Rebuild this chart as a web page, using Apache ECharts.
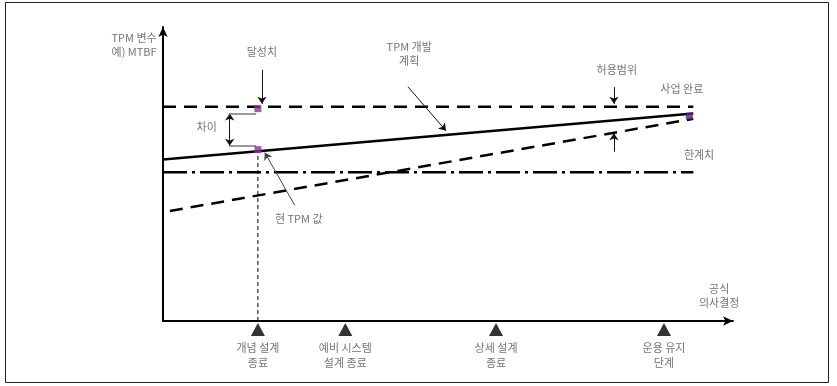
<!DOCTYPE html>
<html>
<head>
<meta charset="utf-8">
<script src="https://cdn.jsdelivr.net/npm/echarts@6/dist/echarts.min.js"></script>
<style>
html,body{margin:0;padding:0;background:#fff;}
#c{width:837px;height:386px;}
</style>
</head>
<body>
<div id="c"></div>
<script>
// ---- data (conceptual units: x = time 0..99, y = TPM value 0..98) ----
const upperBound = [[0, 71.6], [92.2, 71.6]];          // 허용범위 (upper dashed)
const thresholdLine = [[0, 49.7], [92.2, 49.7]];       // 한계치 (dash-dot)
const planLine = [[0, 54.0], [92.2, 69.4]];            // TPM 개발 계획 (solid)
const lowerBound = [[1.2, 36.8], [92.2, 67.6]];        // lower dashed bound
const achievedPoint = [16.5, 71.0];                     // 달성치
const currentPoint = [16.5, 57.3];                      // 현 TPM 값
const finalPoint = [91.5, 68.5];                        // 사업 완료
const milestoneX = [16.5, 31.7, 57.9, 87.1];
const milestoneLabels = ['개념 설계\n종료', '예비 시스템\n설계 종료', '상세 설계\n종료', '운용 유지\n단계'];
const textNotes = [
  {text: 'TPM 변수\n예) MTBF', pos: [-1.1, 92.3], align: 'right'},
  {text: '달성치', pos: [17.2, 90.1], align: 'center'},
  {text: '차이', pos: [7.6, 64.8], align: 'center'},
  {text: 'TPM 개발\n계획', pos: [42.8, 89.3], align: 'center'},
  {text: '허용범위', pos: [78.9, 83.9], align: 'center'},
  {text: '사업 완료', pos: [90.2, 77.6], align: 'center'},
  {text: '한계치', pos: [93.2, 55.5], align: 'center'},
  {text: '현 TPM 값', pos: [23.6, 34.1], align: 'center'},
  {text: '공식\n의사결정', pos: [96.7, 8.3], align: 'center'}
];
const arrowsDown = [
  [[17.2, 83.9], [17.2, 72.6]],   // 달성치 arrow
  [[42.6, 78.3], [49.2, 63.6]],   // 계획 arrow
  [[78.4, 78.2], [78.4, 72.6]],   // 허용범위 arrow (top)
  [[78.4, 56.6], [78.4, 62.8]]    // 허용범위 arrow (bottom)
];
const currentArrow = [[22.9, 38.7], [17.7, 56.3]];
const gapArrow = [[11.6, 69.4], [11.6, 58.6]];
const gapTicks = [
  [[11.5, 69.4], [16.2, 69.4]],
  [[11.5, 58.6], [16.2, 58.6]]
];
const dropLine = [[16.5, 0], [16.5, 57.3]];

const FONT = '"Noto Sans CJK KR", "Noto Sans", sans-serif';
const TXT = '#505050';

const chart = echarts.init(document.getElementById('c'));

function lineSeries(data, width, type, z) {
  return {type: 'line', data: data, showSymbol: false, symbol: 'none', silent: true,
    lineStyle: {color: '#000', width: width, type: type}, z: z || 3, animation: false};
}
function arrowSeries(list, color, width, symbols) {
  return {type: 'lines', coordinateSystem: 'cartesian2d', silent: true, animation: false,
    symbol: symbols, symbolSize: 7, z: 5,
    lineStyle: {color: color, width: width, opacity: 1, curveness: 0},
    data: list.map(c => ({coords: c}))};
}

const option = {
  backgroundColor: '#fff',
  animation: false,
  graphic: [{type: 'rect', shape: {x: 5.5, y: 2.5, width: 823, height: 380},
    style: {fill: 'none', stroke: '#222', lineWidth: 1}, silent: true, z: -1}],
  grid: {left: 163, right: 104, top: 27, bottom: 65, containLabel: false},
  xAxis: {type: 'value', min: 0, max: 99.1,
    axisLine: {show: true, onZero: false, symbol: ['none', 'arrow'], symbolSize: [7, 10],
      lineStyle: {color: '#000', width: 2}},
    axisTick: {show: false}, axisLabel: {show: false}, splitLine: {show: false}},
  yAxis: {type: 'value', min: 0, max: 98.3,
    axisLine: {show: true, onZero: false, symbol: ['none', 'arrow'], symbolSize: [7, 10],
      lineStyle: {color: '#000', width: 2}},
    axisTick: {show: false}, axisLabel: {show: false}, splitLine: {show: false}},
  series: [
    lineSeries(upperBound, 2.5, [13, 8]),
    lineSeries(thresholdLine, 2.5, [24, 5, 3, 5]),
    lineSeries(planLine, 2.5, 'solid', 4),
    lineSeries(lowerBound, 2.5, [13, 8]),
    lineSeries(dropLine, 1, [4, 3], 2),
    arrowSeries(arrowsDown, '#111', 1, ['none', 'arrow']),
    arrowSeries([currentArrow], '#444', 1, ['none', 'arrow']),
    arrowSeries([gapArrow], '#111', 1, ['arrow', 'arrow']),
    arrowSeries(gapTicks, '#777', 1.5, ['none', 'none']),
    {type: 'scatter', symbol: 'rect', symbolSize: 7, silent: true, z: 6, animation: false,
      itemStyle: {color: '#8a3596'},
      data: [achievedPoint, currentPoint]},
    {type: 'scatter', symbol: 'rect', symbolSize: 7, silent: true, z: 6, animation: false,
      itemStyle: {color: '#5e2080'},
      data: [finalPoint]},
    {type: 'scatter', symbol: 'triangle', symbolSize: [14, 13], symbolOffset: [0, 8.5],
      silent: true, z: 6, clip: false, animation: false,
      itemStyle: {color: '#000'},
      label: {show: true, position: 'bottom', distance: 4, fontFamily: FONT, fontSize: 11,
        color: TXT, lineHeight: 15, align: 'center',
        formatter: p => milestoneLabels[p.dataIndex]},
      data: milestoneX.map(x => [x, 0])},
    {type: 'scatter', symbolSize: 1, silent: true, z: 7, clip: false, animation: false,
      itemStyle: {color: 'rgba(0,0,0,0)'},
      data: textNotes.map(t => ({value: t.pos,
        label: {show: true, position: 'inside', formatter: t.text, align: t.align,
          fontFamily: FONT, fontSize: 11, color: TXT, lineHeight: 14}}))}
  ]
};
chart.setOption(option);
</script>
</body>
</html>
